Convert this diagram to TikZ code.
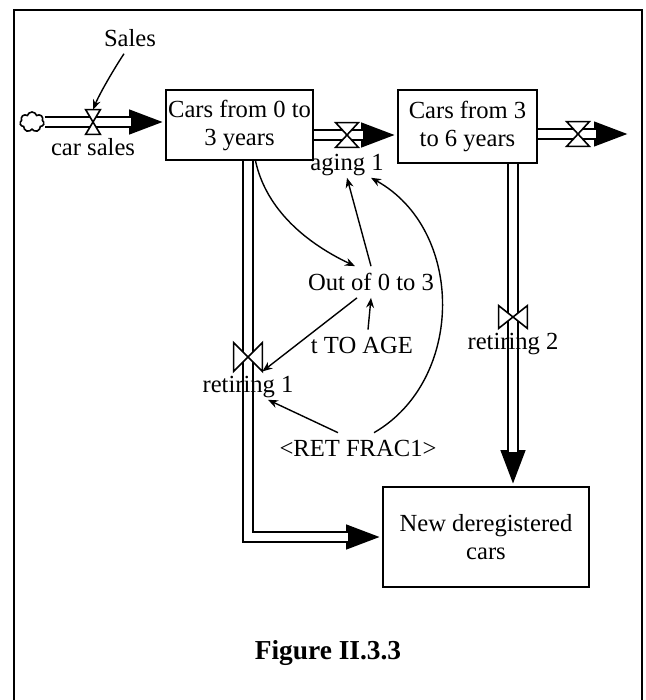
\documentclass[tikz,border=0pt]{standalone}
\usepackage{fontspec}
\setmainfont{Liberation Serif}
\usetikzlibrary{arrows.meta,positioning,shapes.symbols}

\begin{document}
\begin{tikzpicture}[
        x=0.5pt, y=-0.5pt,
        font=\fontsize{12.3}{14}\selectfont,
        box/.style={draw, line width=0.8pt, align=center, inner sep=0.5pt},
        pipe/.style={line width=6pt, -{Triangle[length=18pt,width=11pt]}, postaction={draw=white, line width=3.8pt, -, shorten >=17pt}},
        valve/.style={inner sep=0pt, minimum width=11pt, minimum height=12pt},
        vline/.style={draw, fill=white, line width=0.8pt, line join=miter},
        lbl/.style={inner sep=1pt},
        arr/.style={-{Stealth[length=5pt,width=4pt]}, line width=0.7pt}
    ]
    \useasboundingbox (0,0) rectangle (646,700);
    \draw[line width=1.2pt] (14,700) -- (14,10) -- (642,10) -- (642,700);

    % stocks
    \node[box, minimum width=73.5pt, minimum height=35pt] (young) at (239.5,125) {Cars from 0 to\\3 years};
    \node[box, minimum width=69.5pt, minimum height=36.5pt] (mid) at (467.5,126.5) {Cars from 3\\to 6 years};
    \node[box, minimum width=103pt, minimum height=50pt] (dereg) at (486,537) {New deregistered\\cars};
    \node[cloud, draw, cloud puffs=7, minimum width=12pt, minimum height=10pt, inner sep=0pt, line width=0.8pt] (src) at (32,122) {};
    \coordinate (sink) at (630,134);

    % flows
    \node[valve, minimum width=7pt] (csales) at (93,122) {};
    \node[valve] (aging) at (347,135) {};
    \node[valve] (out36) at (578,134) {};
    \node[valve, minimum width=14pt, minimum height=14pt] (ret1) at (248,357) {};
    \node[valve, minimum width=14pt, minimum height=11pt] (ret2) at (513,317) {};

    \draw[pipe] (src.east) -- (src.east -| young.west);
    \draw[pipe] (aging -| young.east) -- (aging -| mid.west);
    \draw[pipe] (out36 -| mid.east) -- (sink);
    \draw[pipe] (ret1 |- young.south) -- (ret1 |- dereg.west) -- (dereg.west);
    \draw[pipe] (ret2 |- mid.south) -- (ret2 |- dereg.north);

    \foreach \v in {csales,aging,out36}
        \draw[vline] (\v.north west) -- (\v.north east) -- (\v.south west) -- (\v.south east) -- cycle;
    \foreach \v in {ret1,ret2}
        \draw[vline] (\v.north west) -- (\v.south west) -- (\v.north east) -- (\v.south east) -- cycle;

    \node[lbl, below=1pt of csales] (csl) {car sales};
    \node[lbl, below=2pt of aging] (agl) {aging 1};
    \node[lbl, below=1pt of ret1] (r1l) {retiring 1};
    \node[lbl, below=1pt of ret2] (r2l) {retiring 2};

    % auxiliaries
    \node (sales) at (130,38) {Sales};
    \node (outof) at (371,282) {Out of 0 to 3};
    \node (ttoage) at (362,345) {t TO AGE};
    \node (retfrac) at (358,448) {<RET FRAC1>};
    \node[font=\bfseries\fontsize{13.7}{16}\selectfont] (fig) at (328,653) {Figure II.3.3};

    \draw[arr] ([xshift=-3pt]sales.south) .. controls (112,72) and (99,95) .. (csales.north);
    \draw[arr] ([xshift=8pt]young.south) .. controls (265,205) and (300,240) .. ([xshift=-8pt]outof.north);
    \draw[arr] (outof.north) -- (agl.south);
    \draw[arr] ([xshift=3pt]ttoage.north) -- (outof.south);
    \draw[arr] ([xshift=-7pt]outof.south) -- (ret1.south east);
    \draw[arr] ([xshift=-10pt]retfrac.north) -- ([xshift=10pt]r1l.south);
    \draw[arr] ([xshift=8pt]retfrac.north) .. controls (465,380) and (465,230) .. ([xshift=12pt]agl.south);
\end{tikzpicture}
\end{document}
